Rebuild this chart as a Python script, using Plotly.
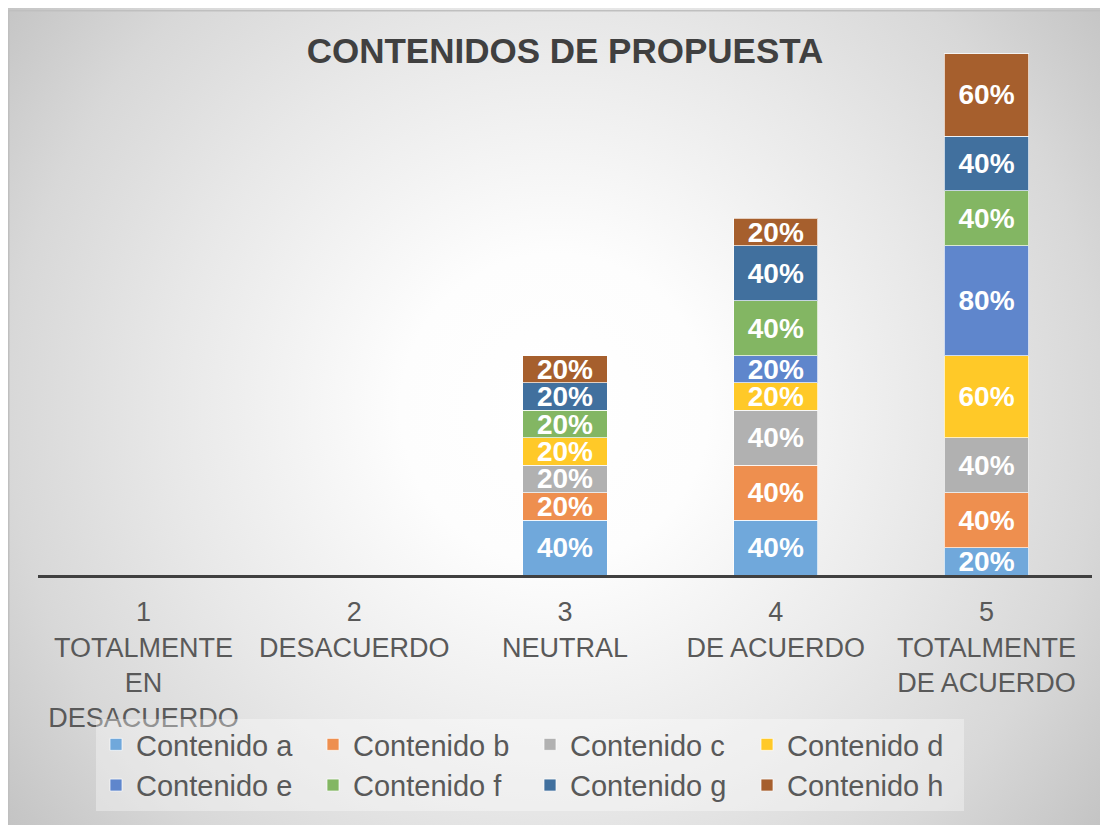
import base64
import plotly.graph_objects as go

# ---------------- data ----------------
categories = [
    "1<br>TOTALMENTE<br>EN<br>DESACUERDO",
    "2<br>DESACUERDO",
    "3<br>NEUTRAL",
    "4<br>DE ACUERDO",
    "5<br>TOTALMENTE<br>DE ACUERDO",
]
series_names = [
    "Contenido a", "Contenido b", "Contenido c", "Contenido d",
    "Contenido e", "Contenido f", "Contenido g", "Contenido h",
]
contenido_a = [None, None, 40, 40, 20]
contenido_b = [None, None, 20, 40, 40]
contenido_c = [None, None, 20, 40, 40]
contenido_d = [None, None, 20, 20, 60]
contenido_e = [None, None, None, 20, 80]
contenido_f = [None, None, 20, 40, 40]
contenido_g = [None, None, 20, 40, 40]
contenido_h = [None, None, 20, 20, 60]
series_values = [contenido_a, contenido_b, contenido_c, contenido_d,
                 contenido_e, contenido_f, contenido_g, contenido_h]
colors = ["#70A8DB", "#EE8F4F", "#B1B1B1", "#FFC928",
          "#5F86CC", "#83B663", "#41709E", "#A65F2D"]
title_text = "CONTENIDOS DE PROPUESTA"

# ---------------- layout geometry ----------------
W, H = 1100, 817
ML, MR, MT, MB = 30, 16, 32, 250
PW, PH = W - ML - MR, H - MT - MB

svg = f'''<svg xmlns="http://www.w3.org/2000/svg" width="{W}" height="{H}" viewBox="0 0 {W} {H}" preserveAspectRatio="none">
<defs><radialGradient id="g" gradientUnits="userSpaceOnUse" cx="547" cy="400" r="700">
<stop offset="0" stop-color="#ffffff"/>
<stop offset="0.22" stop-color="#fdfdfd"/>
<stop offset="0.55" stop-color="#e8e8e8"/>
<stop offset="0.78" stop-color="#d8d8d8"/>
<stop offset="1" stop-color="#c2c2c2"/>
</radialGradient></defs>
<rect x="0" y="0" width="{W}" height="{H}" fill="url(#g)"/>
<rect x="0.75" y="2.75" width="{W}" height="{H}" fill="none" stroke="#bfbfbf" stroke-width="1.5"/>
</svg>'''
bg_src = "data:image/svg+xml;base64," + base64.b64encode(svg.encode()).decode()

fig = go.Figure()
for name, vals, col in zip(series_names, series_values, colors):
    fig.add_trace(go.Bar(
        name=name, x=categories, y=vals,
        marker=dict(color=col, line=dict(color="rgba(255,255,255,0.7)", width=1)),
        texttemplate="%{y}%", textposition="inside", insidetextanchor="middle",
        textangle=0, constraintext="none",
        textfont=dict(family="Liberation Sans, Arial", size=28, color="white", weight="bold"),
        hoverinfo="skip",
    ))

fig.update_layout(
    width=W, height=H, autosize=False,
    barmode="stack", bargap=0.6,
    margin=dict(l=ML, r=MR, t=MT, b=MB, pad=0),
    paper_bgcolor="white", plot_bgcolor="rgba(0,0,0,0)",
    font=dict(family="Liberation Sans, Arial", color="#595959"),
    title=dict(text=title_text, xref="container", yref="container",
               x=557 / W, xanchor="center", y=1 - 43 / H, yanchor="middle",
               font=dict(size=35, color="#404040", weight="bold",
                         family="Liberation Sans, Arial")),
    xaxis=dict(showline=True, linecolor="#404040", linewidth=3, showgrid=False,
               ticks="", tickfont=dict(size=27, color="#595959"),
               ticklabelstandoff=11, zeroline=False),
    yaxis=dict(visible=False, range=[0, 390], showgrid=False, zeroline=False),
    legend=dict(orientation="h", x=(88 - ML) / PW, xanchor="left",
                y=(PH - (711 - MT)) / PH, yanchor="top",
                entrywidth=172, entrywidthmode="pixels",
                bgcolor="rgba(255,255,255,0.35)", borderwidth=0,
                font=dict(size=29, color="#595959"), traceorder="normal"),
    images=[dict(source=bg_src, xref="paper", yref="paper",
                 x=-ML / PW, y=1 + MT / PH, sizex=W / PW, sizey=H / PH,
                 xanchor="left", yanchor="top", sizing="stretch", layer="below")],
    showlegend=True,
)

fig.write_html("out.html")
